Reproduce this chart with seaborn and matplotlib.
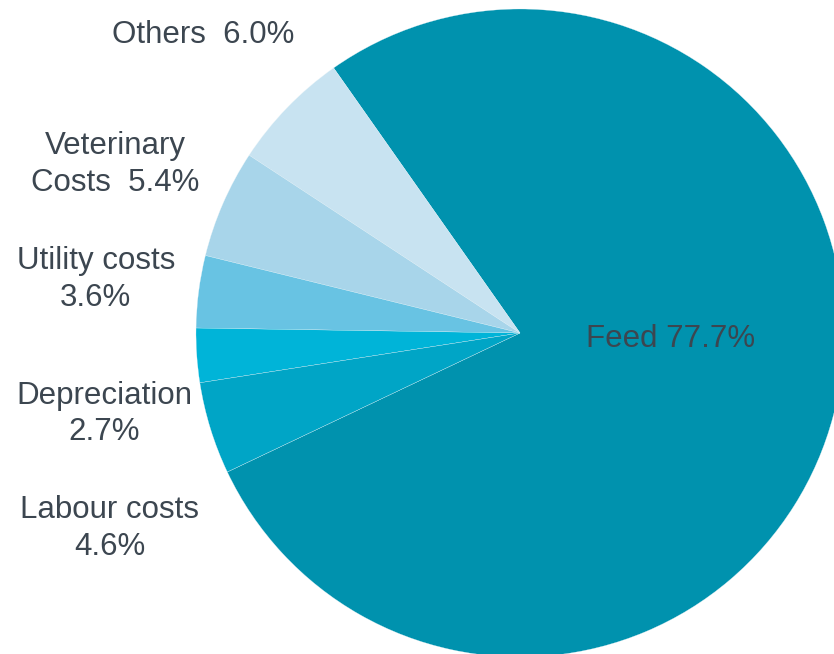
import matplotlib
matplotlib.use("Agg")
import matplotlib.pyplot as plt
import seaborn as sns

# Set style
sns.set_theme(style="white")
plt.rcParams['font.family'] = ['Liberation Sans', 'DejaVu Sans']

# Data (counter-clockwise order, starting with Feed)
categories = ['Feed', 'Others', 'Veterinary\nCosts', 'Utility costs', 'Depreciation', 'Labour costs']
shares = [77.7, 6.0, 5.4, 3.6, 2.7, 4.6]
label_text = ['Feed 77.7%', 'Others  6.0%', 'Veterinary\nCosts  5.4%',
              'Utility costs\n3.6%', 'Depreciation\n2.7%', 'Labour costs\n4.6%']
colors = ['#0092AE', '#C8E3F1', '#A8D5EA', '#68C3E3', '#00B4D8', '#00A5C6']

# label anchor positions (pie radius = 1)
label_x = [0.466, -0.978, -1.250, -1.309, -1.284, -1.266]
label_y = [-0.018, 0.920, 0.520, 0.165, -0.250, -0.604]

TEXT_COLOR = '#3C4650'

fig = plt.figure(figsize=(8.34, 6.54), dpi=100)
ax = fig.add_axes([0, 0, 1, 1])

ax.pie(shares, colors=colors, startangle=-154.6, counterclock=True,
       wedgeprops=dict(edgecolor='#E6F3F8', linewidth=0.2))

for txt, x, y in zip(label_text, label_x, label_y):
    ax.text(x, y, txt, ha='center', va='center', fontsize=22.5,
            color=TEXT_COLOR, linespacing=1.3)

ax.set_xlim(-520 / 324, 314 / 324)
ax.set_ylim(-321 / 324, 333 / 324)
ax.set_aspect('equal')
ax.axis('off')

fig.savefig('out.png', dpi=100)
plt.close(fig)
